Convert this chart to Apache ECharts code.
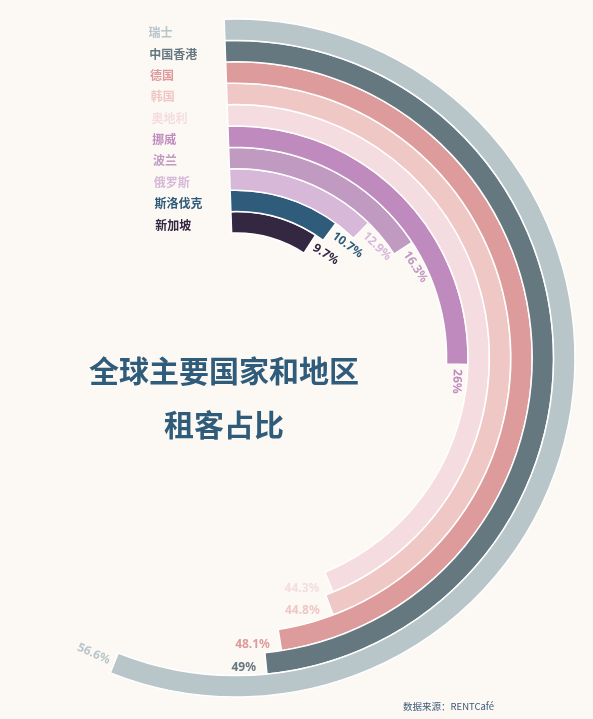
<!DOCTYPE html>
<html>
<head>
<meta charset="utf-8">
<script src="https://cdn.jsdelivr.net/npm/echarts@6/dist/echarts.min.js"></script>
<style>
  html, body { margin: 0; padding: 0; background: #fcf9f5; }
  #chart { width: 593px; height: 719px; }
</style>
</head>
<body>
<div id="chart"></div>
<script>
// inner ring first
var countries = ['新加坡', '斯洛伐克', '俄罗斯', '波兰', '挪威', '奥地利', '韩国', '德国', '中国香港', '瑞士'];
var shares = [9.7, 10.7, 12.9, 16.3, 26, 44.3, 44.8, 48.1, 49, 56.6];
var colors = ['#332741', '#305c7b', '#d7b8d8', '#c09ac0', '#bf8bbf', '#f5dce0', '#efc7c5', '#dd9b9b', '#66787f', '#b8c6c9'];
// these labels sit flat in the picture
var flatLabels = ['奥地利', '韩国', '德国', '中国香港'];

var seriesData = [];
for (var i = 0; i < shares.length; i++) {
    var item = {
        value: shares[i],
        itemStyle: {color: colors[i]},
        label: {color: colors[i]}
    };
    if (flatLabels.indexOf(countries[i]) >= 0) {
        item.label.rotate = 0;
        item.label.align = 'right';
        item.label.offset = [-5, 4];
    }
    if (countries[i] == '瑞士') {
        // tangential would draw it upside down; polar labels take radians here
        item.label.rotate = -24 * Math.PI / 180;
        item.label.align = 'right';
        item.label.verticalAlign = 'middle';
    }
    seriesData.push(item);
}

var myChart = echarts.init(document.getElementById('chart'));
var option = {
    backgroundColor: '#fcf9f5',
    title: [{
        text: '全球主要国家和地区\n租客占比',
        left: 219,
        top: 339,
        textAlign: 'center',
        textStyle: {
            color: '#305c7b',
            fontSize: 30,
            fontWeight: 'bold',
            lineHeight: 54,
            fontFamily: 'Noto Sans CJK SC'
        }
    }, {
        text: '数据来源：RENTCafé',
        left: 398,
        top: 697,
        textStyle: {
            color: '#3d5a78',
            fontSize: 9.5,
            fontWeight: 'normal',
            fontFamily: 'Noto Sans CJK SC'
        }
    }],
    polar: {
        center: [236, 358],
        radius: [125, 339]
    },
    angleAxis: {
        type: 'value',
        min: 0,
        max: 100,
        startAngle: 92,
        clockwise: true,
        axisLine: {show: false},
        axisTick: {show: false},
        axisLabel: {show: false},
        splitLine: {show: false}
    },
    radiusAxis: {
        type: 'category',
        data: countries,
        axisLine: {show: false},
        axisTick: {show: false},
        axisLabel: {
            interval: 0,
            margin: 76,
            align: 'left',
            fontSize: 12,
            fontWeight: 'bold',
            fontFamily: 'Noto Sans CJK SC',
            color: function (value) {
                return colors[countries.indexOf(value)];
            }
        }
    },
    series: [{
        type: 'bar',
        coordinateSystem: 'polar',
        data: seriesData,
        barCategoryGap: '0%',
        itemStyle: {
            borderColor: '#ffffff',
            borderWidth: 1.5
        },
        label: {
            show: true,
            position: 'end',
            rotate: 'tangential',
            fontSize: 12,
            fontWeight: 'bold',
            fontFamily: 'Noto Sans',
            formatter: '{c}%'
        },
        animation: false
    }]
};
myChart.setOption(option);
</script>
</body>
</html>
